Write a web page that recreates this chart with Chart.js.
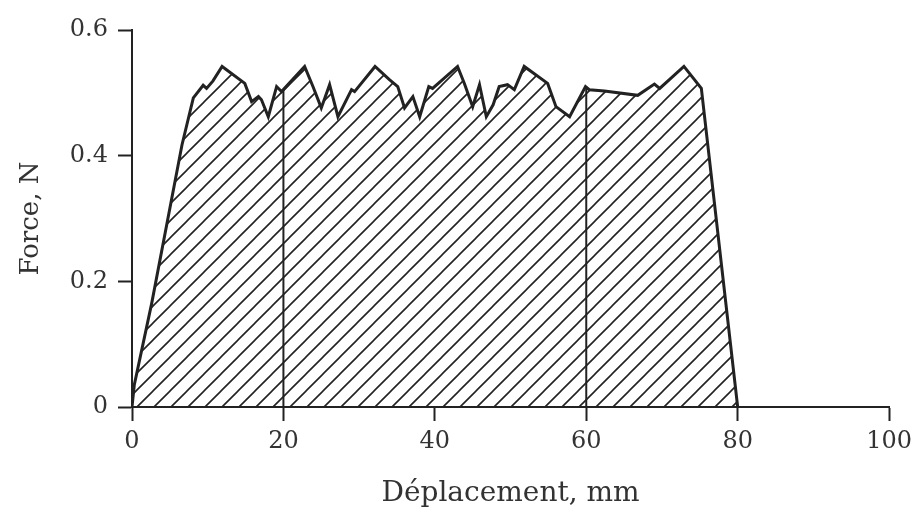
<!DOCTYPE html>
<html>
<head>
<meta charset="utf-8">
<script src="https://cdn.jsdelivr.net/npm/chart.js@4/dist/chart.umd.min.js"></script>
<style>
  body { margin: 0; background: #fff; }
  #wrap { width: 918px; height: 515px; }
</style>
</head>
<body>
<div id="wrap"><canvas id="myChart" width="918" height="515"></canvas></div>
<script>
// force / displacement trace
var displacement = [0, 0.3, 2.6, 6.6, 8.1, 9.4, 9.85, 10.7, 11.9, 14.9, 15.8, 16.7, 17.1, 18.0, 19.1, 19.75,
    22.8, 23.9, 25.0, 26.1, 27.2, 29.0, 29.4, 32.1, 34.0, 35.1, 36.0, 37.1, 38.0, 39.2, 39.7,
    43.0, 43.9, 45.0, 45.9, 46.8, 47.7, 48.5, 49.6, 50.5, 51.8, 54.9, 56.0, 57.8, 59.9, 60.4,
    62.4, 66.8, 69.0, 69.7, 72.9, 75.2, 80.0];
var force = [0, 0.035, 0.165, 0.417, 0.492, 0.512, 0.507, 0.519, 0.542, 0.515, 0.486, 0.494, 0.489, 0.462, 0.510, 0.502,
    0.542, 0.510, 0.476, 0.513, 0.462, 0.505, 0.502, 0.542, 0.521, 0.510, 0.476, 0.494, 0.462, 0.510, 0.507,
    0.542, 0.515, 0.478, 0.513, 0.462, 0.481, 0.510, 0.513, 0.505, 0.542, 0.515, 0.478, 0.462, 0.510, 0.505,
    0.503, 0.496, 0.514, 0.507, 0.542, 0.507, 0];
var dividers = [20, 60];
var xTicks = [0, 20, 40, 60, 80, 100];
var yTicks = [0, 0.2, 0.4, 0.6];

var ink = '#222';
var serif = '"DejaVu Serif", serif';

function forceAt(x) {
    for (var i = 1; i < displacement.length; i++) {
        if (displacement[i] >= x) {
            var t = (x - displacement[i - 1]) / (displacement[i] - displacement[i - 1]);
            return force[i - 1] + t * (force[i] - force[i - 1]);
        }
    }
    return 0;
}

// diagonal hatching for the area under the curve
function hatch() {
    var p = 17;
    var c = document.createElement('canvas');
    c.width = p; c.height = p;
    var g = c.getContext('2d');
    g.strokeStyle = ink;
    g.lineWidth = 1.6;
    g.beginPath();
    g.moveTo(0, p); g.lineTo(p, 0);
    g.moveTo(-2, 2); g.lineTo(2, -2);
    g.moveTo(p - 2, p + 2); g.lineTo(p + 2, p - 2);
    g.stroke();
    return g.createPattern(c, 'repeat');
}

var curve = [];
for (var i = 0; i < displacement.length; i++) curve.push({ x: displacement[i], y: force[i] });

var datasets = [{
    data: curve,
    borderColor: ink,
    borderWidth: 3,
    backgroundColor: hatch(),
    fill: 'origin',
    pointRadius: 0,
    tension: 0,
    order: 1
}];
dividers.forEach(function (d) {
    datasets.push({
        data: [{ x: d, y: 0 }, { x: d, y: forceAt(d) }],
        borderColor: ink,
        borderWidth: 2,
        fill: false,
        pointRadius: 0,
        order: 2
    });
});

var axisGrid = { display: true, drawOnChartArea: false, drawTicks: true, tickLength: 14, tickWidth: 2, color: ink };

var ctx = document.getElementById('myChart').getContext('2d');
var chart = new Chart(ctx, {
    type: 'line',
    data: { datasets: datasets },
    options: {
        responsive: false,
        animation: false,
        layout: { padding: { top: 30, right: 28, left: 0, bottom: 0 } },
        plugins: { legend: { display: false }, tooltip: { enabled: false } },
        scales: {
            x: {
                type: 'linear',
                min: 0, max: 100,
                afterBuildTicks: function (s) { s.ticks = xTicks.map(function (v) { return { value: v }; }); },
                afterFit: function (s) { s.height = 108; },
                ticks: { color: '#333', font: { family: serif, size: 24 }, padding: 6 },
                grid: axisGrid,
                border: { color: ink, width: 2 },
                title: { display: true, text: 'Déplacement, mm', color: '#333', font: { family: serif, size: 28 }, padding: { top: 10, bottom: 4 } }
            },
            y: {
                type: 'linear',
                min: 0, max: 0.6,
                afterBuildTicks: function (s) { s.ticks = yTicks.map(function (v) { return { value: v }; }); },
                afterFit: function (s) { s.width = 132; },
                ticks: {
                    color: '#333', font: { family: serif, size: 24 }, padding: 10,
                    callback: function (v) { return String(Number(v.toFixed(1))); }
                },
                grid: axisGrid,
                border: { color: ink, width: 2 },
                title: { display: true, text: 'Force, N', color: '#333', font: { family: serif, size: 26 }, padding: { top: 16, bottom: 6 } }
            }
        }
    }
});
</script>
</body>
</html>
